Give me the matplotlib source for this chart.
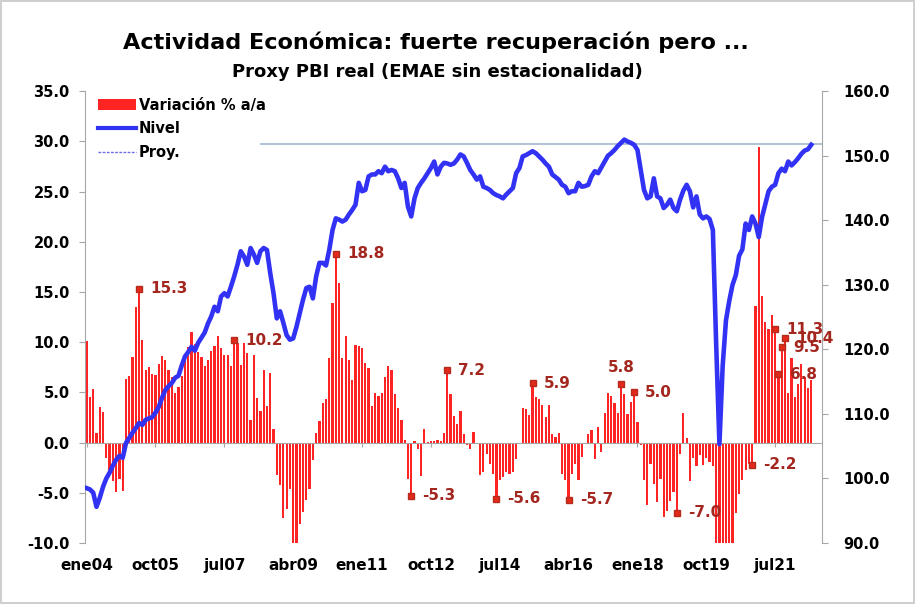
import matplotlib
matplotlib.use("Agg")
import matplotlib.pyplot as plt
from matplotlib.patches import Patch
from matplotlib.lines import Line2D

# Datos mensuales desde ene04
variacion = [
    10.1, 4.5, 5.3, 1.0, 3.5, 3.0, -1.5, -2.7, -3.8, -4.9, -3.6, -4.8,
    6.3, 6.6, 8.5, 13.5, 15.3, 10.2, 7.2, 7.5, 6.8, 6.7, 7.8, 8.6,
    8.2, 7.2, 6.5, 4.9, 5.5, 6.6, 8.5, 9.5, 11.0, 9.8, 9.0, 8.5,
    7.6, 8.2, 9.1, 9.6, 10.6, 9.4, 8.7, 8.7, 7.6, 10.2, 9.9, 7.7,
    9.9, 8.9, 2.3, 8.7, 4.4, 3.1, 7.2, 3.6, 6.9, 1.4, -3.2, -4.2,
    -7.5, -6.6, -4.6, -10.0, -10.0, -8.1, -6.9, -5.7, -4.6, -1.7, 1.0, 2.2,
    3.9, 4.3, 8.4, 13.9, 18.8, 15.9, 8.4, 10.6, 8.2, 6.2, 9.7, 9.6,
    9.4, 7.9, 7.4, 3.6, 4.9, 4.6, 4.9, 6.5, 7.6, 7.2, 4.8, 3.4,
    2.3, 0.3, -3.6, -5.3, 0.2, -0.6, -3.3, 1.4, 0.1, 0.2, 0.2, 0.3,
    0.2, 1.0, 7.2, 4.8, 2.6, 1.9, 3.1, 0.9, -0.2, -0.6, 1.1, -0.1,
    -3.2, -2.9, -1.1, -2.1, -3.1, -5.6, -3.7, -3.4, -2.9, -3.1, -2.9, -1.6,
    0.0, 3.4, 3.3, 2.7, 5.9, 4.5, 4.3, 3.7, 2.5, 3.7, 0.9, 0.6,
    1.0, -3.1, -3.7, -5.7, -3.1, -2.1, -3.7, -1.4, -0.1, 0.9, 1.3, -1.6,
    1.6, -0.9, 2.9, 4.9, 4.6, 3.9, 2.9, 5.8, 4.8, 2.8, 4.0, 5.0,
    2.1, -0.2, -3.7, -6.2, -2.1, -4.1, -5.9, -3.6, -7.4, -6.8, -5.8, -4.9,
    -7.0, -1.1, 2.9, 0.5, -3.8, -1.5, -2.3, -1.2, -2.2, -1.5, -1.9, -2.3,
    -10.0, -10.0, -10.0, -10.0, -10.0, -10.0, -7.0, -5.1, -3.7, -2.7, -2.1, -2.2,
    13.6, 29.4, 14.6, 12.0, 11.3, 12.7, 11.3, 6.8, 9.5, 10.4, 4.9, 8.4,
    4.5, 5.8, 7.8, 6.5, 5.4, 6.2,
]

nivel = [
    98.5, 98.3, 97.8, 95.6, 97.0, 98.7, 100.0, 100.9, 102.0, 102.9, 103.5, 103.2,
    105.5, 106.3, 107.1, 107.8, 108.6, 108.3, 109.1, 109.3, 109.5, 110.2, 111.1, 112.5,
    113.7, 114.3, 114.8, 115.6, 115.9, 117.5, 118.9, 119.6, 120.4, 119.8, 121.0, 121.8,
    122.6, 124.0, 125.1, 126.6, 125.9, 128.2, 128.7, 128.2, 129.7, 131.3, 133.1, 135.2,
    134.4, 133.1, 135.7, 134.7, 133.4, 135.2, 135.7, 135.4, 131.8, 128.7, 124.8, 125.9,
    124.1, 122.2, 121.5, 121.7, 123.5, 125.6, 127.7, 129.5, 129.7, 127.9, 131.3, 133.4,
    133.4, 133.0, 135.4, 138.5, 140.3, 140.1, 139.8, 140.1, 140.9, 141.6, 142.4, 145.8,
    144.5, 144.7, 146.8, 147.1, 147.1, 147.6, 147.3, 148.3, 147.6, 147.8, 147.6, 146.5,
    145.0, 145.8, 142.1, 140.6, 143.4, 145.0, 145.8, 146.5, 147.3, 148.1, 149.1, 147.1,
    148.3, 148.9, 148.8, 148.6, 148.8, 149.4, 150.2, 149.9, 148.9, 147.8, 147.1, 146.3,
    146.8, 145.2, 145.0, 144.7, 144.2, 143.9, 143.7, 143.4, 144.0, 144.5, 145.0, 147.3,
    148.1, 149.9, 150.1, 150.4, 150.7, 150.4, 149.9, 149.4, 148.8, 148.3, 147.1, 146.7,
    146.3, 145.5, 145.2, 144.2, 144.5, 144.5, 145.8, 145.2, 145.3, 145.5, 146.8, 147.6,
    147.3, 148.2, 149.1, 150.0, 150.4, 150.9, 151.5, 152.0, 152.5, 152.2, 152.0, 151.7,
    150.9, 147.8, 144.7, 143.4, 143.7, 146.5, 143.7, 143.4, 141.9, 142.4, 143.2, 141.9,
    141.4, 143.2, 144.6, 145.5, 144.5, 142.0, 143.7, 140.9, 140.3, 140.6, 140.2, 138.5,
    121.0, 105.3, 117.5, 124.5, 127.5, 130.0, 131.5, 134.5, 135.5, 139.5, 138.5, 140.6,
    139.5, 137.4, 140.5, 142.5, 144.5, 145.2, 145.5, 147.3, 148.0, 147.6, 149.1, 148.5,
    149.0, 149.6, 150.3, 150.8, 151.0, 151.7,
]

nivel_ref = 151.8
etiquetas_x = ["ene04", "oct05", "jul07", "abr09", "ene11", "oct12",
               "jul14", "abr16", "ene18", "oct19", "jul21"]
marcas_idx = [16, 45, 76, 99, 110, 125, 136, 147, 163, 167, 180, 203, 210, 211, 212, 213]
marcas_txt = ["15.3", "10.2", "18.8", "-5.3", "7.2", "-5.6", "5.9", "-5.7",
              "5.8", "5.0", "-7.0", "-2.2", "11.3", "6.8", "9.5", "10.4"]

meses = list(range(len(variacion)))
gris = "#a6a6a6"
rojo_txt = "#a3271f"

fig = plt.figure(figsize=(9.15, 6.04), dpi=100)
fig.patch.set_edgecolor("#cfcfcf")
fig.patch.set_linewidth(1.5)
ax = fig.add_axes([0.0929, 0.101, 0.8055, 0.748])
ax2 = ax.twinx()

# Barras de variacion
ax.bar(meses, variacion, width=0.68, color="#ff2424", zorder=2)
ax.set_ylim(-10, 35)
ax.set_yticks(range(-10, 36, 5))
ax.set_yticklabels([f"{v:.1f}" for v in range(-10, 36, 5)])
ax.set_xlim(-0.5, 224.3)

# Eje x cruzando en cero
ax.spines["bottom"].set_position(("data", 0))
ax.spines["bottom"].set_color(gris)
ax.spines["top"].set_visible(False)
ax.spines["right"].set_visible(False)
ax.spines["left"].set_color(gris)
ticks_x = [21 * i for i in range(len(etiquetas_x))]
ax.set_xticks(ticks_x)
ax.tick_params(axis="x", length=3, color=gris, labelbottom=False)
ax.tick_params(axis="y", length=4, color=gris, pad=7, labelsize=10.5)
for t in ax.get_yticklabels():
    t.set_fontweight("bold")

sec = ax.secondary_xaxis(0.0)
sec.set_xticks(ticks_x)
sec.set_xticklabels(etiquetas_x, fontsize=11, fontweight="bold")
sec.tick_params(length=0, pad=11)
sec.spines["bottom"].set_visible(False)

# Marcas con etiquetas
for i, txt in zip(marcas_idx, marcas_txt):
    ax.plot(i, variacion[i], marker="s", ms=4.5, color="#e2291b",
            mec="#b32c1c", zorder=3)
    if txt == "5.8":
        off, ha, va = (0, 7), "center", "bottom"
    else:
        off, ha, va = (8, 0), "left", "center"
    ax.annotate(txt, (i, variacion[i]), xytext=off, textcoords="offset points",
                ha=ha, va=va, color=rojo_txt, fontsize=11, fontweight="bold",
                zorder=4)

# Nivel (eje derecho)
ax2.plot(meses, nivel, color="#3232f5", lw=3.3, zorder=3)
ax2.hlines(nivel_ref, 53, 224.3, color="#a9bdd1", lw=1.3, zorder=2)
ax2.set_ylim(90, 160)
ax2.set_yticks(range(90, 161, 10))
ax2.set_yticklabels([f"{v:.1f}" for v in range(90, 161, 10)])
ax2.tick_params(axis="y", length=4, color=gris, pad=11, labelsize=10.5)
for t in ax2.get_yticklabels():
    t.set_fontweight("bold")
for s in ["top", "left", "bottom"]:
    ax2.spines[s].set_visible(False)
ax2.spines["right"].set_color(gris)

handles = [
    Patch(facecolor="#ff2424", label="Variación % a/a"),
    Line2D([], [], color="#3232f5", lw=3, label="Nivel"),
    Line2D([], [], color="#6d6de8", lw=1, ls=(0, (2, 1)), label="Proy."),
]
leg = ax2.legend(handles=handles, loc="upper left", bbox_to_anchor=(0.0, 1.015),
                 frameon=False, handlelength=2.6, handletextpad=0.2,
                 labelspacing=0.6, prop={"size": 10.5, "weight": "bold"})

fig.text(0.4765, 0.930, "Actividad Económica: fuerte recuperación pero ...",
         ha="center", va="center", fontsize=16.1, fontweight="bold")
fig.text(0.478, 0.881, "Proxy PBI real (EMAE sin estacionalidad)",
         ha="center", va="center", fontsize=13, fontweight="bold")

plt.savefig("out.png", dpi=100)
